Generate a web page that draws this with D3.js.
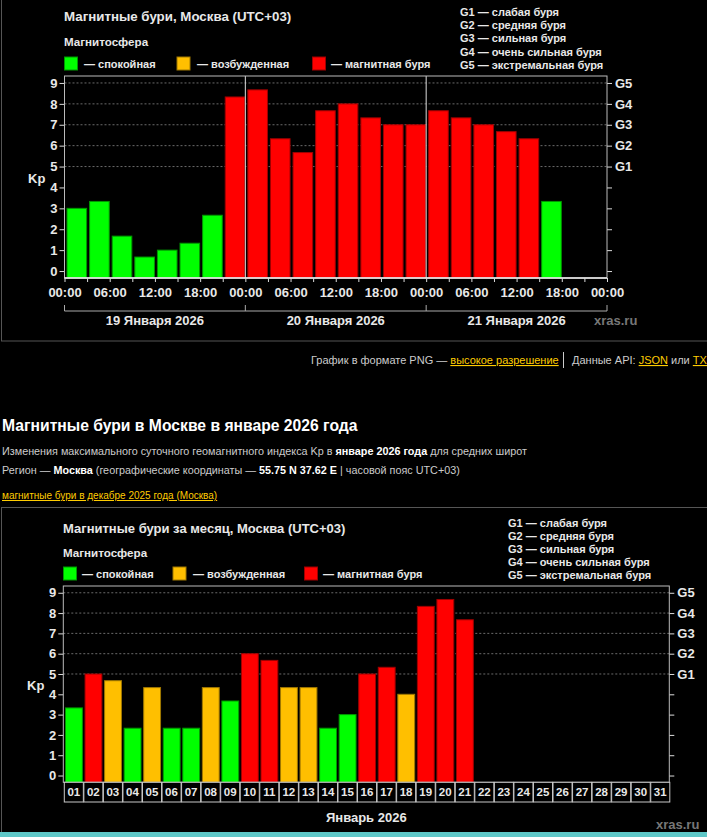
<!DOCTYPE html>
<html><head><meta charset="utf-8">
<script src="https://cdn.jsdelivr.net/npm/d3@7"></script>
<style>
html,body{margin:0;padding:0;background:#000;overflow:hidden;}
svg{display:block;font-family:"Liberation Sans",Arial,sans-serif;}
</style></head>
<body>
<script>
// ---------- DATA ----------
const topDays = ["19 Января 2026", "20 Января 2026", "21 Января 2026"];
const hourLabels = ["00:00", "06:00", "12:00", "18:00"];
const topKp = [3, 3.33, 1.67, 0.67, 1, 1.33, 2.67, 8.33,
               8.67, 6.33, 5.67, 7.67, 8, 7.33, 7, 7,
               7.67, 7.33, 7, 6.67, 6.33, 3.33];
const monthDays = ["01","02","03","04","05","06","07","08","09","10","11","12","13","14","15","16",
                   "17","18","19","20","21","22","23","24","25","26","27","28","29","30","31"];
const monthKp = [3.33, 5, 4.67, 2.33, 4.33, 2.33, 2.33, 4.33, 3.67, 6, 5.67, 4.33, 4.33, 2.33, 3, 5,
                 5.33, 4, 8.33, 8.67, 7.67];
const yTicks = [0, 1, 2, 3, 4, 5, 6, 7, 8, 9];
const gLabels = ["G1", "G2", "G3", "G4", "G5"];
const gValues = [5, 6, 7, 8, 9];
const gLegend = ["G1 — слабая буря", "G2 — средняя буря", "G3 — сильная буря", "G4 — очень сильная буря", "G5 — экстремальная буря"];
const legendItems = ["— спокойная", "— возбужденная", "— магнитная буря"];
const legendColors = ["#00ff00", "#ffbf00", "#ff0000"];
const legendStrokes = ["#009900", "#a07800", "#a00000"];

function colorIdx(v){ return v < 4 ? 0 : (v < 5 ? 1 : 2); }

const svg = d3.select("body").append("svg").attr("width", 707).attr("height", 837);
svg.append("rect").attr("width", 707).attr("height", 837).attr("fill", "#000");

const AX = "#dcdcdc";
const TXT = "#e8e8e8";

function header(g, x0, yTitle, yMag, ySw, swX, txX, title, titleSize, gx, gy0, gdy){
  g.append("text").attr("x", x0).attr("y", yTitle).attr("fill", TXT)
    .attr("font-size", titleSize).attr("font-weight", "bold").text(title);
  g.append("text").attr("x", x0).attr("y", yMag).attr("fill", TXT)
    .attr("font-size", 11.6).attr("font-weight", "bold").text("Магнитосфера");
  legendItems.forEach((t, i) => {
    g.append("rect").attr("x", swX[i] + 0.5).attr("y", ySw + 0.5).attr("width", 13).attr("height", 13)
      .attr("fill", legendColors[i]).attr("stroke", legendStrokes[i]);
    g.append("text").attr("x", txX[i]).attr("y", ySw + 11).attr("fill", TXT)
      .attr("font-size", 11).attr("font-weight", "bold").text(t);
  });
  gLegend.forEach((t, i) => {
    g.append("text").attr("x", gx).attr("y", gy0 + i * gdy).attr("fill", TXT)
      .attr("font-size", 11).attr("font-weight", "bold").text(t);
  });
}

function yAxes(g, x, y, left, right){
  g.selectAll(".grid").data(gValues).enter().append("line")
    .attr("x1", left).attr("x2", right).attr("y1", d => y(d)).attr("y2", d => y(d))
    .attr("stroke", "#6a6a6a").attr("stroke-dasharray", "2,2");
  const la = g.append("g").attr("transform", `translate(${left},0)`)
    .call(d3.axisLeft(y).tickValues(yTicks).tickSize(5).tickSizeOuter(0).tickPadding(2));
  const ra = g.append("g").attr("transform", `translate(${right},0)`)
    .call(d3.axisRight(y).tickValues(yTicks).tickSize(5).tickSizeOuter(0).tickPadding(3)
      .tickFormat(d => { const k = gValues.indexOf(d); return k >= 0 ? gLabels[k] : ""; }));
  [la, ra].forEach(a => {
    a.select(".domain").remove();
    a.selectAll("line").attr("stroke", AX);
    a.selectAll("text").attr("fill", TXT).attr("font-size", 13).attr("font-weight", "bold")
      .attr("font-family", "Liberation Sans, Arial, sans-serif");
  });
}

// ---------- PAGE FRAMES ----------
svg.append("rect").attr("x", 1.5).attr("y", -2).attr("width", 720).attr("height", 343)
  .attr("fill", "none").attr("stroke", "#555");
svg.append("rect").attr("x", 1.5).attr("y", 507.5).attr("width", 720).attr("height", 330)
  .attr("fill", "none").attr("stroke", "#555");
svg.append("rect").attr("x", 0).attr("y", 832).attr("width", 707).attr("height", 5).attr("fill", "#5ec8c8");

// ---------- TOP CHART ----------
{
  const L = 64.5, R = 607, T = 76, B = 278;
  const g = svg.append("g");
  const x = d3.scaleLinear().domain([0, 24]).range([L, R]);
  const y = d3.scaleLinear().domain([-1/3, 28/3]).range([B, T]);
  header(g, 64, 21, 46, 56.5, [64, 176.5, 312], [84, 197, 331], "Магнитные бури, Москва (UTC+03)", 13.3, 460, 16, 13.2);
  yAxes(g, x, y, L, R);
  const sw = x(1) - x(0);
  g.selectAll(".bar").data(topKp).enter().append("rect")
    .attr("x", (d, i) => x(i) + 2.5).attr("width", sw - 3)
    .attr("y", d => y(d)).attr("height", d => y(-1/3) - y(d))
    .attr("fill", d => legendColors[colorIdx(d)]).attr("stroke", d => legendStrokes[colorIdx(d)]).attr("stroke-width", 1);
  g.selectAll(".sep").data([8, 16]).enter().append("line")
    .attr("x1", d => x(d)).attr("x2", d => x(d)).attr("y1", T).attr("y2", B)
    .attr("stroke", AX).attr("stroke-width", 1);
  g.append("rect").attr("x", L).attr("y", T).attr("width", R - L).attr("height", B - T)
    .attr("fill", "none").attr("stroke", "#bbb").attr("stroke-width", 1);
  g.append("line").attr("x1", L).attr("x2", R).attr("y1", B).attr("y2", B).attr("stroke", "#f0f0f0").attr("stroke-width", 1.5);
  const xa = g.append("g").attr("transform", `translate(0,${B})`)
    .call(d3.axisBottom(x).tickValues(d3.range(0, 25)).tickSize(4).tickSizeOuter(0).tickPadding(6)
      .tickFormat(i => i % 2 === 0 ? hourLabels[(i / 2) % 4] : ""));
  xa.select(".domain").remove();
  xa.selectAll("line").attr("stroke", AX);
  xa.selectAll("text").attr("fill", TXT).attr("font-size", 13).attr("font-weight", "bold")
    .attr("font-family", "Liberation Sans, Arial, sans-serif");
  const by = 311;
  g.append("line").attr("x1", x(0)).attr("x2", x(24)).attr("y1", by).attr("y2", by).attr("stroke", "#aaa");
  g.selectAll(".bt").data([0, 8, 16, 24]).enter().append("line")
    .attr("x1", d => x(d)).attr("x2", d => x(d)).attr("y1", by - 6).attr("y2", by).attr("stroke", "#aaa");
  g.selectAll(".dl").data(topDays).enter().append("text")
    .attr("x", (d, i) => x(i * 8 + 4)).attr("y", 325).attr("text-anchor", "middle")
    .attr("fill", TXT).attr("font-size", 13).attr("font-weight", "bold").text(d => d);
  g.append("text").attr("x", 28).attr("y", 183).attr("fill", TXT).attr("font-size", 13).attr("font-weight", "bold").text("Kp");
  g.append("text").attr("x", 594).attr("y", 325).attr("fill", "#777").attr("font-size", 13).attr("font-weight", "bold").text("xras.ru");
}

// ---------- MIDDLE TEXT ----------
{
  const t1 = svg.append("text").attr("x", 311).attr("y", 364).attr("font-size", 11).attr("fill", "#ccc");
  t1.append("tspan").text("График в формате PNG — ");
  t1.append("tspan").attr("fill", "#ffcc00").attr("text-decoration", "underline").text("высокое разрешение");
  svg.append("line").attr("x1", 563.5).attr("x2", 563.5).attr("y1", 352).attr("y2", 368).attr("stroke", "#ccc");
  const t2 = svg.append("text").attr("x", 572).attr("y", 364).attr("font-size", 11).attr("fill", "#ccc");
  t2.append("tspan").text("Данные API: ");
  t2.append("tspan").attr("fill", "#ffcc00").attr("text-decoration", "underline").text("JSON");
  t2.append("tspan").text(" или ");
  t2.append("tspan").attr("fill", "#ffcc00").attr("text-decoration", "underline").text("TXT");

  svg.append("text").attr("x", 2).attr("y", 431).attr("font-size", 15.7).attr("font-weight", "bold").attr("fill", "#fff")
    .text("Магнитные бури в Москве в январе 2026 года");
  const l2 = svg.append("text").attr("x", 2).attr("y", 455).attr("font-size", 10.8).attr("fill", "#ccc");
  l2.append("tspan").text("Изменения максимального суточного геомагнитного индекса Kp в ");
  l2.append("tspan").attr("font-weight", "bold").attr("fill", "#fff").text("январе 2026 года");
  l2.append("tspan").text(" для средних широт");
  const l3 = svg.append("text").attr("x", 2).attr("y", 474).attr("font-size", 10.8).attr("fill", "#ccc");
  l3.append("tspan").text("Регион — ");
  l3.append("tspan").attr("font-weight", "bold").attr("fill", "#fff").text("Москва");
  l3.append("tspan").text(" (географические координаты — ");
  l3.append("tspan").attr("font-weight", "bold").attr("fill", "#fff").text("55.75 N 37.62 E");
  l3.append("tspan").text(" | часовой пояс UTC+03)");
  svg.append("text").attr("x", 2).attr("y", 499).attr("font-size", 10).attr("fill", "#ffcc00")
    .attr("text-decoration", "underline").text("магнитные бури в декабре 2025 года (Москва)");
}

// ---------- BOTTOM CHART ----------
{
  const L = 63.3, R = 669.3, T = 586, B = 782.3;
  const g = svg.append("g");
  const x = d3.scaleLinear().domain([0, 31]).range([L, R]);
  const y = d3.scaleLinear().domain([-1/3, 28/3]).range([B, T]);
  header(g, 63, 533, 557, 566.5, [63, 172.5, 304], [82, 193, 323], "Магнитные бури за месяц, Москва (UTC+03)", 13, 508, 527, 13.1);
  yAxes(g, x, y, L, R);
  const sw = x(1) - x(0);
  g.selectAll(".bar").data(monthKp).enter().append("rect")
    .attr("x", (d, i) => x(i) + 2.2).attr("width", sw - 2.7)
    .attr("y", d => y(d)).attr("height", d => y(-1/3) - y(d))
    .attr("fill", d => legendColors[colorIdx(d)]).attr("stroke", d => legendStrokes[colorIdx(d)]).attr("stroke-width", 1);
  g.append("rect").attr("x", L).attr("y", T).attr("width", R - L).attr("height", B - T)
    .attr("fill", "none").attr("stroke", "#bbb").attr("stroke-width", 1);
  const cy0 = B, cy1 = 802;
  g.selectAll(".cell").data(monthDays).enter().append("rect")
    .attr("x", (d, i) => x(i) + 1).attr("y", cy0).attr("width", sw - 0.5).attr("height", cy1 - cy0)
    .attr("fill", "#000").attr("stroke", "#c8c8c8").attr("stroke-width", 1);
  g.selectAll(".cl").data(monthDays).enter().append("text")
    .attr("x", (d, i) => x(i + 0.5) + 0.7).attr("y", 796).attr("text-anchor", "middle")
    .attr("fill", TXT).attr("font-size", 11.5).attr("font-weight", "bold").text(d => d);
  g.append("text").attr("x", (L + R) / 2).attr("y", 822).attr("text-anchor", "middle")
    .attr("fill", TXT).attr("font-size", 13).attr("font-weight", "bold").text("Январь 2026");
  g.append("text").attr("x", 27).attr("y", 690).attr("fill", TXT).attr("font-size", 13).attr("font-weight", "bold").text("Kp");
  g.append("text").attr("x", 656).attr("y", 829).attr("fill", "#777").attr("font-size", 13).attr("font-weight", "bold").text("xras.ru");
}
</script>
</body></html>
